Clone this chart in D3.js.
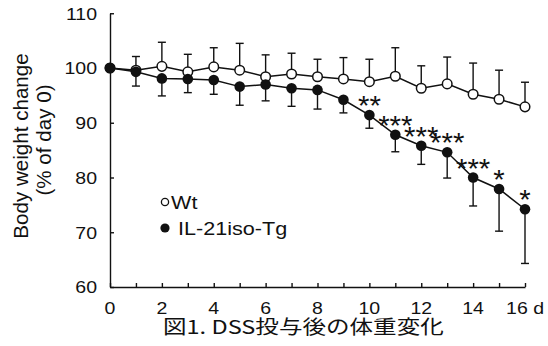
<!DOCTYPE html>
<html><head><meta charset="utf-8">
<script src="https://cdn.jsdelivr.net/npm/d3@7"></script>
<style>
html,body{margin:0;padding:0;background:#fff;}
svg{display:block;}
text{font-family:"Liberation Sans",Arial,sans-serif;fill:#111;}
</style></head>
<body>
<svg id="chart" width="548" height="346"></svg>
<script>
// ---- data ----
const days = [0,1,2,3,4,5,6,7,8,9,10,11,12,13,14,15,16];
const wtMean = [100, 99.6, 100.3, 99.3, 100.2, 99.6, 98.4, 98.9, 98.4, 98.0, 97.5, 98.5, 96.3, 97.1, 95.2, 94.3, 92.9];
const wtErr  = [0, 2.5, 4.4, 3.2, 3.5, 4.9, 4.0, 3.8, 3.2, 3.9, 4.1, 5.2, 4.1, 4.9, 5.7, 5.3, 4.5];
const tgMean = [100, 99.3, 98.1, 98.0, 97.8, 96.6, 97.0, 96.3, 96.0, 94.2, 91.4, 87.8, 85.8, 84.6, 80.0, 77.9, 74.2];
const tgErr  = [0, 2.6, 3.2, 2.5, 2.6, 3.4, 3.0, 3.3, 3.5, 2.4, 2.4, 3.1, 3.4, 4.7, 5.2, 7.7, 9.9];
const sig    = ["","","","","","","","","","","**","***","***","***","***","*","*"];
const xTicks = [0,2,4,6,8,10,12,14,16];
const xTickLabels = ["0","2","4","6","8","10","12","14","16 d"];
const yTicks = [60,70,80,90,100,110];
const seriesNames = ["Wt","IL-21iso-Tg"];
const yTitle = ["Body weight change","(% of day 0)"];
const caption = "図1. DSS投与後の体重変化";

// ---- layout ----
const svg = d3.select("#chart");
const SX = 1.2;
const x = d3.scaleLinear().domain([0,16]).range([110,525]);
const y = d3.scaleLinear().domain([60,110]).range([287,13.25]);

function stext(g, px, py, str, size, anchor, rot, sx, family){
  return g.append("text")
    .attr("transform", `translate(${px},${py}) rotate(${rot||0}) scale(${sx||SX},1)`)
    .attr("text-anchor", anchor||"start")
    .style("font-size", size+"px")
    .style("font-family", family||null)
    .text(str);
}

// axes
const gy = svg.append("g").attr("transform","translate(110,0)")
  .call(d3.axisLeft(y).tickValues(yTicks).tickSizeInner(-4).tickSizeOuter(0).tickPadding(13));
gy.selectAll("text").each(function(d){
  d3.select(this).attr("x",null).attr("dy",null)
    .attr("transform",`translate(-13,${5.8}) scale(${1.22},1)`)
    .style("font-size","16px").style("font-family",null);
});
const gx = svg.append("g").attr("transform","translate(0,287)")
  .call(d3.axisBottom(x).tickValues(days).tickSizeInner(-4).tickSizeOuter(0).tickFormat(()=>"") );
gx.selectAll("text").remove();
xTicks.forEach((t,i)=>{
  stext(gx, x(t), 27, xTickLabels[i], 16, "middle", 0, 1.22);
});
svg.selectAll(".domain, .tick line").attr("stroke","#111").attr("stroke-width",1.4);

// lines
const line = d3.line().x((d,i)=>x(days[i])).y(d=>y(d));
svg.append("path").datum(wtMean).attr("d",line).attr("fill","none").attr("stroke","#111").attr("stroke-width",1.5);
svg.append("path").datum(tgMean).attr("d",line).attr("fill","none").attr("stroke","#111").attr("stroke-width",1.5);

// error bars
function errBars(mean, err, dir){
  const g = svg.append("g").attr("stroke","#111").attr("stroke-width",1.4);
  days.forEach((d,i)=>{
    if(!err[i]) return;
    const y0 = y(mean[i]), y1 = y(mean[i] + dir*err[i]);
    g.append("line").attr("x1",x(d)).attr("x2",x(d)).attr("y1",y0).attr("y2",y1);
    g.append("line").attr("x1",x(d)-4).attr("x2",x(d)+4).attr("y1",y1).attr("y2",y1);
  });
}
errBars(wtMean, wtErr, 1);
errBars(tgMean, tgErr, -1);

// points
svg.append("g").selectAll("circle").data(wtMean).join("circle")
  .attr("cx",(d,i)=>x(days[i])).attr("cy",d=>y(d)).attr("r",4.8)
  .attr("fill","#fff").attr("stroke","#111").attr("stroke-width",1.5);
svg.append("g").selectAll("circle").data(tgMean).join("circle")
  .attr("cx",(d,i)=>x(days[i])).attr("cy",d=>y(d)).attr("r",5.3)
  .attr("fill","#111");

// significance
days.forEach((d,i)=>{
  if(!sig[i]) return;
  stext(svg, x(d), y(tgMean[i]), sig[i], 28, "middle", 0, 1.05);
});

// legend
svg.append("circle").attr("cx",165).attr("cy",202).attr("r",3.6).attr("fill","#fff").attr("stroke","#111").attr("stroke-width",1.3);
svg.append("circle").attr("cx",165).attr("cy",228).attr("r",4.6).attr("fill","#111");
stext(svg, 171, 209, seriesNames[0], 18, "start", 0, 1.2);
stext(svg, 178, 235, seriesNames[1], 18, "start", 0, 1.2);

// y title
stext(svg, 28, 146, yTitle[0], 20, "middle", -90, 1.03);
stext(svg, 51, 140, yTitle[1], 20, "middle", -90, 1.03);

// caption
stext(svg, 163, 334, caption, 19, "start", 0, 1.24, '"Noto Sans CJK JP","Liberation Sans",sans-serif');
</script>
</body></html>
